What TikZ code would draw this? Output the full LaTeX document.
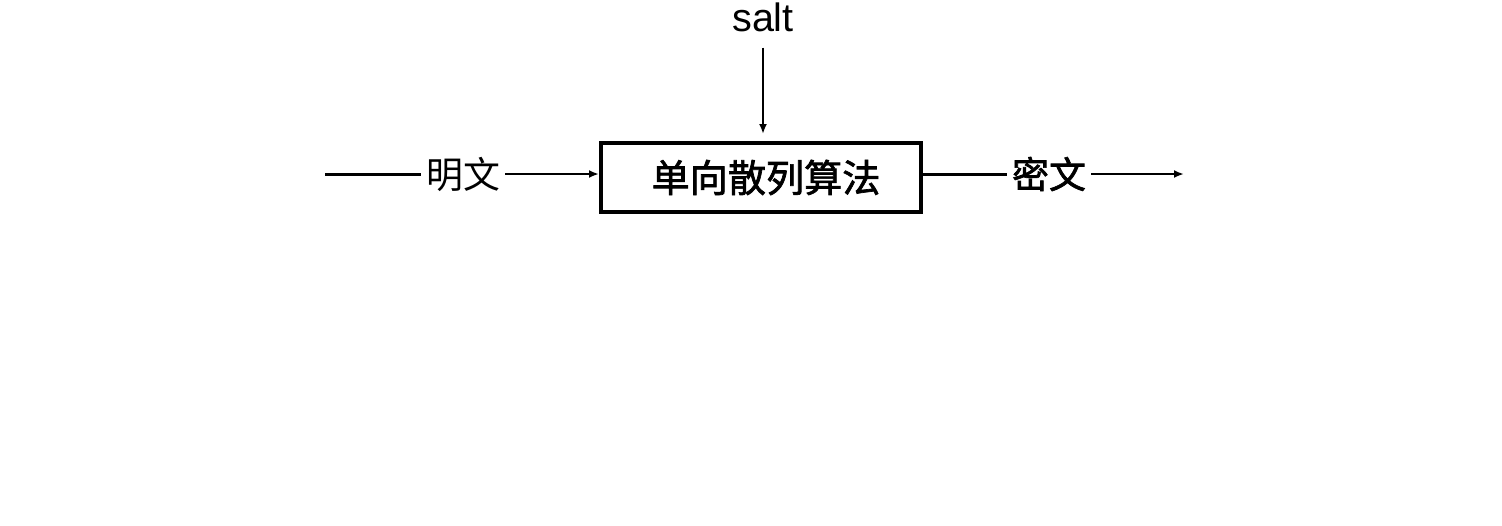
\documentclass[tikz,border=0pt]{standalone}
\usepackage{fontspec}
\setmainfont{Liberation Sans}
\newfontfamily\cjk{Noto Sans CJK SC}
\newfontfamily\cjkbold[FakeBold=1.8]{Noto Sans CJK SC}
\usetikzlibrary{arrows.meta,positioning}

\tikzset{
	algobox/.style={rectangle,draw,line width=0.08cm,minimum width=6.4cm,minimum height=1.38cm,
		font=\cjkbold\fontsize{21.7pt}{26pt}\selectfont},
	flowtext/.style={inner sep=0.1cm,font=\cjk\fontsize{21pt}{25pt}\selectfont},
	thickline/.style={line width=0.06cm},
	thinarrow/.style={line width=0.04cm,-{Latex[length=2mm,width=1.6mm]}}
}

\begin{document}
\begin{tikzpicture}
\useasboundingbox (0,0) rectangle (30.04,-10.5);

\begin{scope}
	\node[algobox] (algo) at (15.22,-3.55) {\hspace*{0.2cm}单向散列算法};
	\node[font=\fontsize{22.5pt}{27pt}\selectfont] (salt) at (15.26,-0.34) {salt};

	\node[flowtext] (plain) at (9.26,-3.48) {明文};
	\node[flowtext,font=\cjkbold\fontsize{21pt}{25pt}\selectfont] (cipher) at (20.98,-3.48) {密文};

	\coordinate (start) at (6.5,-3.48);
	\coordinate (end) at (23.68,-3.48);
	\coordinate (saltend) at (15.26,-2.68);
\end{scope}

\begin{scope}
	\draw[thickline] (start) -- (plain);
	\draw[thinarrow] (plain) -- (plain -| algo.west);
	\draw[thickline] (algo.east |- cipher) -- (cipher);
	\draw[thinarrow] (cipher) -- (end);
	\draw[thinarrow] (salt.south) ++(0,-0.2) -- (saltend);
\end{scope}
\end{tikzpicture}
\end{document}
